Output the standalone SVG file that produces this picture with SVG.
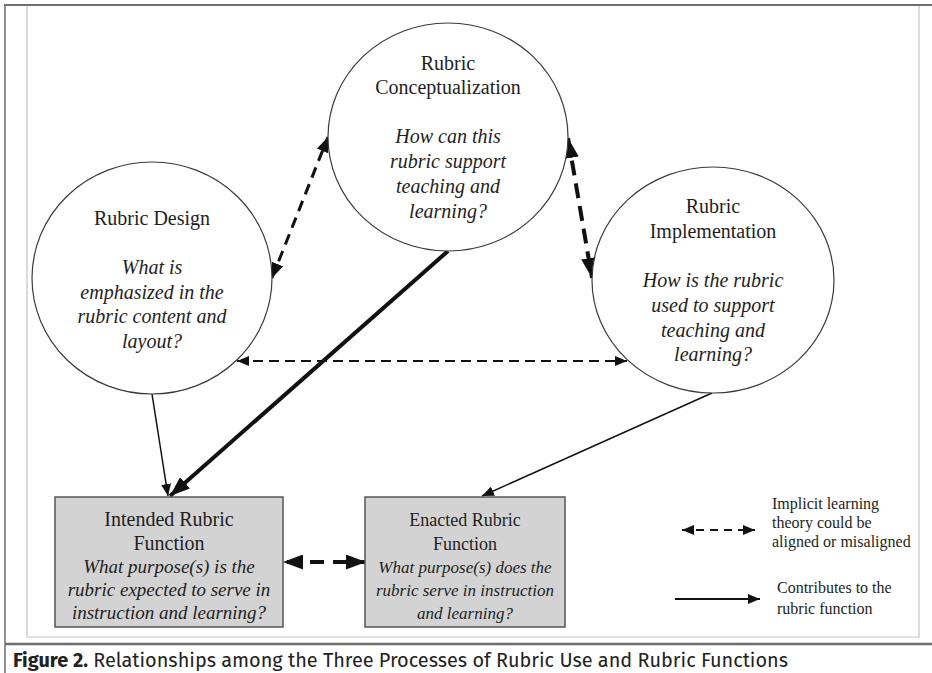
<svg xmlns="http://www.w3.org/2000/svg" width="932" height="673" viewBox="0 0 932 673">
<style>
.bg{fill:#ffffff}
.circ{fill:#ffffff;stroke:#3a3a3a;stroke-width:1.2}
.box{fill:#d3d3d3;stroke:#555555;stroke-width:1.5}
.t{font-family:"Liberation Serif","Times New Roman",serif;font-size:20px;fill:#1e1e1e;text-anchor:middle}
.ti{font-style:italic}
.tb{font-family:"Liberation Serif","Times New Roman",serif;font-size:20px;fill:#1e1e1e;text-anchor:middle}
.tbi{font-size:19px;font-style:italic}
.te{font-size:18px}
.tei{font-size:17px;font-style:italic}
.lg{font-family:"Liberation Serif","Times New Roman",serif;font-size:16px;fill:#1e1e1e}
.cap{font-family:"Fira Sans","Noto Sans","Open Sans",sans-serif;font-size:19.5px;fill:#222222}
.frame-dark{stroke:#6e6e6e;fill:none}
.frame-light{stroke:#c4c4c4;stroke-width:1.2;fill:none}
.ln{stroke:#111111;fill:none}
</style>
<defs>
<marker id="ahS" markerUnits="userSpaceOnUse" viewBox="0 0 12 10" refX="12" refY="5" markerWidth="12" markerHeight="10" orient="auto-start-reverse"><path d="M0,0 L12,5 L0,10 z" fill="#111"/></marker>
<marker id="ahM" markerUnits="userSpaceOnUse" viewBox="0 0 15 12" refX="15" refY="6" markerWidth="15" markerHeight="12" orient="auto-start-reverse"><path d="M0,0 L15,6 L0,12 z" fill="#111"/></marker>
<marker id="ahL" markerUnits="userSpaceOnUse" viewBox="0 0 20 15" refX="20" refY="7.5" markerWidth="20" markerHeight="15" orient="auto-start-reverse"><path d="M0,0 L20,7.5 L0,15 z" fill="#111"/></marker>
</defs>
<rect class="bg" x="0" y="0" width="932" height="673"/>

<g id="frame">
<line class="frame-dark" x1="4" y1="5" x2="932" y2="5" stroke-width="2"/>
<line class="frame-dark" x1="5" y1="4" x2="5" y2="673" stroke-width="1.5"/>
<polyline class="frame-light" points="27,6 27,637 919,637 919,6"/>
<line class="frame-dark" x1="5" y1="644" x2="932" y2="644" stroke-width="2.5"/>
</g>

<g id="connectors">
<line class="ln" x1="272" y1="278" x2="328" y2="137" stroke-width="3" stroke-dasharray="11 7" marker-start="url(#ahM)" marker-end="url(#ahM)"/>
<line class="ln" x1="568" y1="138" x2="592" y2="278" stroke-width="4" stroke-dasharray="15 8" marker-start="url(#ahL)" marker-end="url(#ahL)"/>
<line class="ln" x1="237" y1="361" x2="627" y2="361" stroke-width="2" stroke-dasharray="10 6" marker-start="url(#ahS)" marker-end="url(#ahS)"/>
<line class="ln" x1="152" y1="394" x2="168" y2="496" stroke-width="1.5" marker-end="url(#ahS)"/>
<line class="ln" x1="448" y1="251" x2="170" y2="496" stroke-width="4" marker-end="url(#ahL)"/>
<line class="ln" x1="712" y1="393" x2="482" y2="496" stroke-width="1.5" marker-end="url(#ahS)"/>
<line class="ln" x1="283" y1="562" x2="366" y2="562" stroke-width="4" stroke-dasharray="14 9" stroke-dashoffset="-4" marker-start="url(#ahL)" marker-end="url(#ahL)"/>
</g>

<g id="conceptualization">
<ellipse class="circ" cx="448" cy="137" rx="120" ry="114"/>
<text class="t" x="448" y="70">Rubric</text>
<text class="t" x="448" y="94">Conceptualization</text>
<text class="t ti" x="448" y="143">How can this</text>
<text class="t ti" x="448" y="168">rubric support</text>
<text class="t ti" x="448" y="193">teaching and</text>
<text class="t ti" x="448" y="218">learning?</text>
</g>

<g id="design">
<ellipse class="circ" cx="152" cy="278" rx="120" ry="116"/>
<text class="t" x="152" y="225">Rubric Design</text>
<text class="t ti" x="152" y="274">What is</text>
<text class="t ti" x="152" y="299">emphasized in the</text>
<text class="t ti" x="152" y="323">rubric content and</text>
<text class="t ti" x="152" y="348">layout?</text>
</g>

<g id="implementation">
<ellipse class="circ" cx="713" cy="280" rx="121" ry="113"/>
<text class="t" x="713" y="213">Rubric</text>
<text class="t" x="713" y="238">Implementation</text>
<text class="t ti" x="713" y="287">How is the rubric</text>
<text class="t ti" x="713" y="312">used to support</text>
<text class="t ti" x="713" y="337">teaching and</text>
<text class="t ti" x="713" y="361">learning?</text>
</g>

<g id="intended">
<rect class="box" x="55" y="497" width="228" height="130"/>
<text class="tb" x="169" y="526">Intended Rubric</text>
<text class="tb" x="169" y="550">Function</text>
<text class="tb tbi" x="169" y="573">What purpose(s) is the</text>
<text class="tb tbi" x="169" y="596">rubric expected to serve in</text>
<text class="tb tbi" x="169" y="619">instruction and learning?</text>
</g>

<g id="enacted">
<rect class="box" x="365" y="497" width="200" height="130"/>
<text class="tb te" x="465" y="526">Enacted Rubric</text>
<text class="tb te" x="465" y="550">Function</text>
<text class="tb tei" x="465" y="573">What purpose(s) does the</text>
<text class="tb tei" x="465" y="596">rubric serve in instruction</text>
<text class="tb tei" x="465" y="619">and learning?</text>
</g>

<g id="legend">
<line class="ln" x1="682" y1="530" x2="755" y2="530" stroke-width="2" stroke-dasharray="8 6" marker-start="url(#ahS)" marker-end="url(#ahS)"/>
<text class="lg" x="772" y="509">Implicit learning</text>
<text class="lg" x="772" y="528">theory could be</text>
<text class="lg" x="772" y="547">aligned or misaligned</text>
<line class="ln" x1="675" y1="599" x2="760" y2="599" stroke-width="2" marker-end="url(#ahS)"/>
<text class="lg" x="777" y="593">Contributes to the</text>
<text class="lg" x="777" y="614">rubric function</text>
</g>

<g id="caption">
<text class="cap" x="13" y="667" textLength="775" lengthAdjust="spacingAndGlyphs"><tspan font-weight="bold">Figure 2.</tspan> Relationships among the Three Processes of Rubric Use and Rubric Functions</text>
</g>
</svg>
